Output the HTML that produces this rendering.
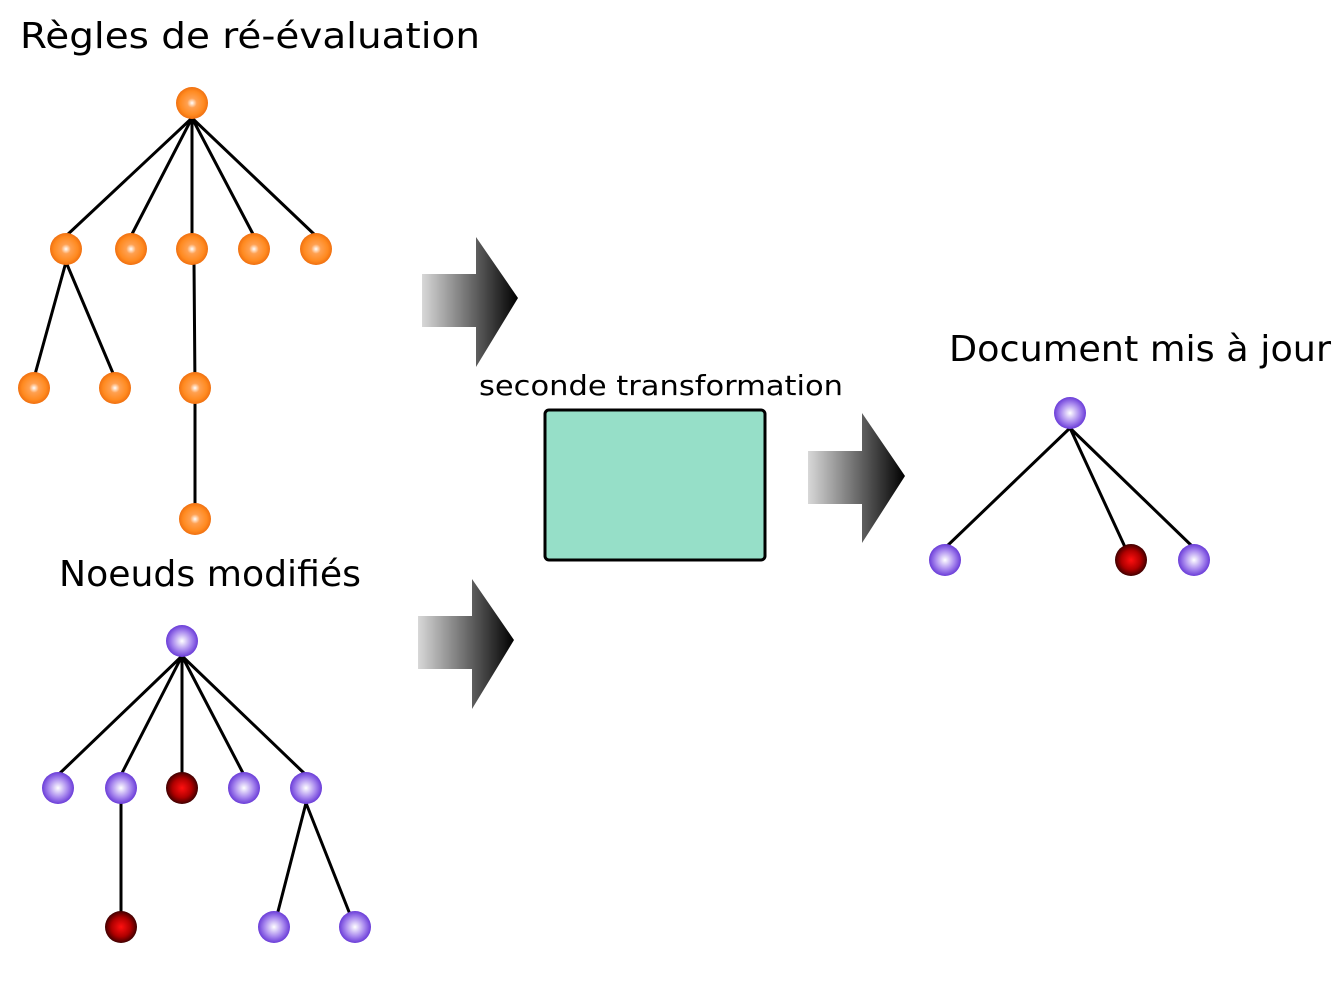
<!DOCTYPE html>
<html><head><meta charset="utf-8"><style>html,body{margin:0;padding:0;background:#fff}svg{display:block}</style></head>
<body>
<svg width="1333" height="1000" viewBox="0 0 1333 1000" xmlns="http://www.w3.org/2000/svg" font-family="DejaVu Sans, Liberation Sans, sans-serif">
<defs>
<radialGradient id="og" cx="0.5" cy="0.5" r="0.5"><stop offset="0" stop-color="#fff"/><stop offset="0.3" stop-color="#ffa050"/><stop offset="0.75" stop-color="#ff8a20"/><stop offset="1" stop-color="#f07010"/></radialGradient>
<radialGradient id="pg" cx="0.5" cy="0.5" r="0.5"><stop offset="0" stop-color="#fff"/><stop offset="0.6" stop-color="#a888ee"/><stop offset="1" stop-color="#6a3cd8"/></radialGradient>
<radialGradient id="rg" cx="0.5" cy="0.5" r="0.5"><stop offset="0" stop-color="#ff1010"/><stop offset="0.6" stop-color="#b00000"/><stop offset="1" stop-color="#400000"/></radialGradient>
<linearGradient id="ag" x1="0" x2="1" y1="0" y2="0"><stop offset="0" stop-color="#d8d8d8"/><stop offset="1" stop-color="#000"/></linearGradient>
</defs>
<g fill="#000">
<text x="20" y="48" font-size="36" textLength="460" lengthAdjust="spacingAndGlyphs">Règles de ré-évaluation</text>
<text x="59" y="586" font-size="36" textLength="302" lengthAdjust="spacingAndGlyphs">Noeuds modifiés</text>
<text x="949" y="361" font-size="36" textLength="382" lengthAdjust="spacingAndGlyphs">Document mis à jour</text>
<text x="479" y="395" font-size="28" textLength="364" lengthAdjust="spacingAndGlyphs">seconde transformation</text>
</g>
<g stroke="#000" stroke-width="3" fill="none">
<path d="M192 118L66 236M192 118L131 236M192 118L192 236M192 118L254 236M192 118L316 236M66 262L34 378M66 262L115 378M194 262L195 388L195 519"/>
<path d="M182 656L58 775M182 656L121 775M182 656L182 775M182 656L244 775M182 656L306 775M121 788L121 927M306 803L274 927M306 803L355 927"/>
<path d="M1070 428L945 548M1070 428L1131 560M1070 428L1194 548"/>
</g>
<g fill="url(#og)">
<circle cx="192" cy="103" r="16"/><circle cx="66" cy="249" r="16"/><circle cx="131" cy="249" r="16"/><circle cx="192" cy="249" r="16"/><circle cx="254" cy="249" r="16"/><circle cx="316" cy="249" r="16"/><circle cx="34" cy="388" r="16"/><circle cx="115" cy="388" r="16"/><circle cx="195" cy="388" r="16"/><circle cx="195" cy="519" r="16"/>
</g>
<g fill="url(#pg)">
<circle cx="182" cy="641" r="16"/><circle cx="58" cy="788" r="16"/><circle cx="121" cy="788" r="16"/><circle cx="244" cy="788" r="16"/><circle cx="306" cy="788" r="16"/><circle cx="274" cy="927" r="16"/><circle cx="355" cy="927" r="16"/>
<circle cx="1070" cy="413" r="16"/><circle cx="945" cy="560" r="16"/><circle cx="1194" cy="560" r="16"/>
</g>
<g fill="url(#rg)">
<circle cx="182" cy="788" r="16"/><circle cx="121" cy="927" r="16"/><circle cx="1131" cy="560" r="16"/>
</g>
<path d="M422 274H476V237L518 298L476 367V327H422Z" fill="url(#ag)"/>
<path d="M418 616H472V579L514 640L472 709V669H418Z" fill="url(#ag)"/>
<path d="M808 451H862V413L905 476L862 543V504H808Z" fill="url(#ag)"/>
<rect x="545" y="410" width="220" height="150" rx="4" fill="#96dfc8" stroke="#000" stroke-width="3"/>
</svg>
</body></html>
